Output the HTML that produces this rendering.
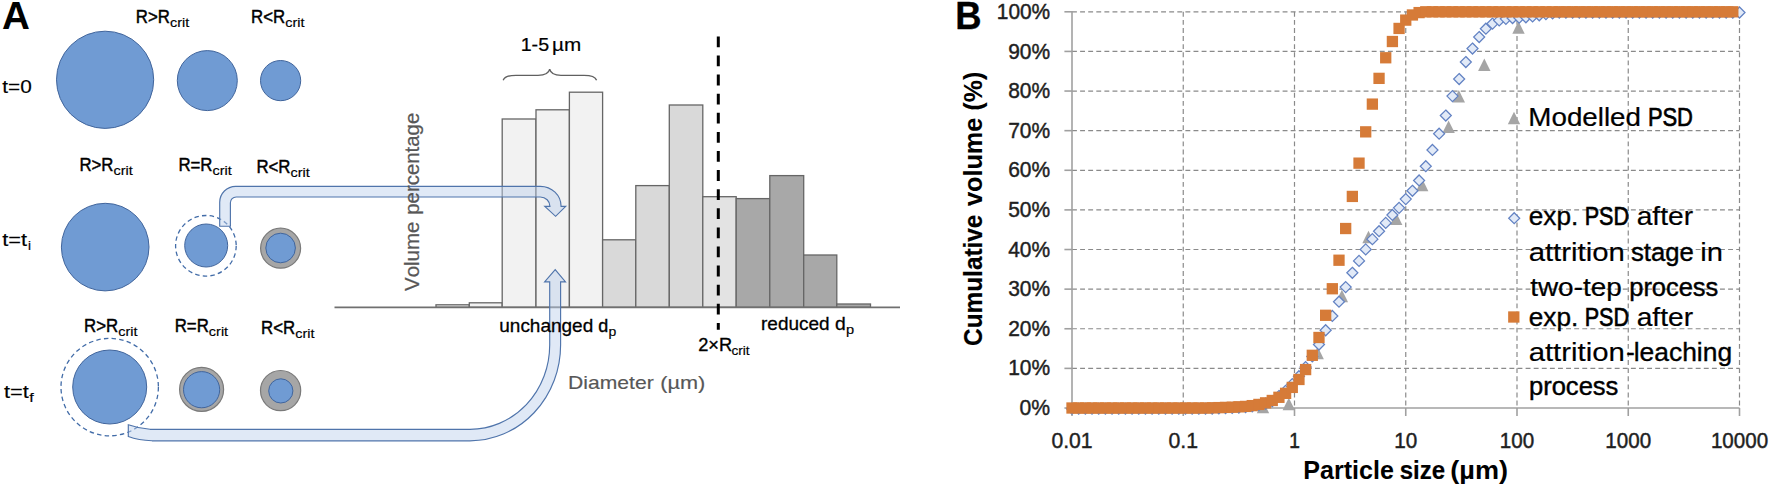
<!DOCTYPE html>
<html lang="en">
<head>
<meta charset="utf-8">
<title>Attrition-leaching model schematic and particle size distributions</title>
<style>
html,body{margin:0;padding:0;background:#fff;}
body{width:1772px;height:487px;overflow:hidden;}
svg{display:block;font-family:"Liberation Sans", sans-serif;}
svg text{font-family:"Liberation Sans", sans-serif;font-kerning:none;}
</style>
</head>
<body>
<svg width="1772" height="487" viewBox="0 0 1772 487">
<rect x="0" y="0" width="1772" height="487" fill="#ffffff"/>
<g id="panelA">
<circle cx="105.1" cy="79.8" r="48.6" fill="#709bd3" stroke="#41659c" stroke-width="1"/>
<circle cx="207.3" cy="80.6" r="30.0" fill="#709bd3" stroke="#41659c" stroke-width="1"/>
<circle cx="280.6" cy="80.6" r="20.1" fill="#709bd3" stroke="#41659c" stroke-width="1"/>
<circle cx="105.2" cy="247.1" r="43.8" fill="#709bd3" stroke="#41659c" stroke-width="1"/>
<circle cx="205.9" cy="245.8" r="30.3" fill="none" stroke="#426ca8" stroke-width="1.3" stroke-dasharray="4.5 3.2"/>
<circle cx="206.2" cy="245.5" r="21.5" fill="#709bd3" stroke="#41659c" stroke-width="1"/>
<circle cx="280.6" cy="248.2" r="20.0" fill="#a6a6a6" stroke="#7a7a7a" stroke-width="1.2"/>
<circle cx="280.6" cy="248.0" r="14.8" fill="#709bd3" stroke="#41659c" stroke-width="1"/>
<circle cx="109.7" cy="387.1" r="48.7" fill="none" stroke="#426ca8" stroke-width="1.3" stroke-dasharray="4.5 3.2"/>
<circle cx="109.7" cy="387.0" r="37.0" fill="#709bd3" stroke="#41659c" stroke-width="1"/>
<circle cx="201.6" cy="389.4" r="22.0" fill="#a6a6a6" stroke="#7a7a7a" stroke-width="1.2"/>
<circle cx="201.6" cy="389.7" r="18.1" fill="#709bd3" stroke="#41659c" stroke-width="1"/>
<circle cx="280.6" cy="390.6" r="20.1" fill="#a6a6a6" stroke="#7a7a7a" stroke-width="1.2"/>
<circle cx="280.8" cy="390.9" r="12.1" fill="#709bd3" stroke="#41659c" stroke-width="1"/>
<rect x="436.0" y="304.8" width="33.3" height="2.5" fill="#f2f2f2" stroke="#666666" stroke-width="1.3"/>
<rect x="469.3" y="302.8" width="32.9" height="4.5" fill="#f2f2f2" stroke="#666666" stroke-width="1.3"/>
<rect x="502.2" y="119.0" width="33.8" height="188.3" fill="#f2f2f2" stroke="#666666" stroke-width="1.3"/>
<rect x="536.0" y="109.8" width="33.4" height="197.5" fill="#f2f2f2" stroke="#666666" stroke-width="1.3"/>
<rect x="569.4" y="92.2" width="33.2" height="215.1" fill="#f2f2f2" stroke="#666666" stroke-width="1.3"/>
<rect x="602.6" y="239.8" width="33.2" height="67.5" fill="#d9d9d9" stroke="#666666" stroke-width="1.3"/>
<rect x="635.8" y="185.6" width="33.5" height="121.7" fill="#d9d9d9" stroke="#666666" stroke-width="1.3"/>
<rect x="669.3" y="105.0" width="33.5" height="202.3" fill="#d9d9d9" stroke="#666666" stroke-width="1.3"/>
<rect x="702.8" y="196.7" width="33.4" height="110.6" fill="#e3e3e3" stroke="#666666" stroke-width="1.3"/>
<rect x="736.2" y="198.6" width="33.6" height="108.7" fill="#a8a8a8" stroke="#666666" stroke-width="1.3"/>
<rect x="769.8" y="175.6" width="33.9" height="131.7" fill="#a8a8a8" stroke="#666666" stroke-width="1.3"/>
<rect x="803.7" y="255.0" width="33.1" height="52.3" fill="#a8a8a8" stroke="#666666" stroke-width="1.3"/>
<rect x="836.8" y="304.0" width="33.7" height="3.3" fill="#a8a8a8" stroke="#666666" stroke-width="1.3"/>
<line x1="334.5" y1="307.3" x2="900" y2="307.3" stroke="#707070" stroke-width="1.8"/>
<line x1="718.3" y1="36.4" x2="718.3" y2="329.7" stroke="#000" stroke-width="3.0" stroke-dasharray="10.8 8.3"/>
<path d="M503.2 80.2 C504.5 76.6 509 75.3 516 75.3 L538 75.3 C545 75.3 548.8 73.5 549.7 69.2 C550.6 73.5 554.4 75.3 561 75.3 L584 75.3 C591 75.3 595.3 76.6 596.6 80.2" fill="none" stroke="#606060" stroke-width="1.35"/>
<path d="M219.7 226.2 L219.7 202.3 A16 16 0 0 1 235.7 186.3 L540.3 186.3 A20.8 20.1 0 0 1 561.1 206.4 L565.7 206.4 L555.6 216.3 L544.8 206.4 L550 206.4 A9.7 9.4 0 0 0 540.3 197.0 L236.2 197.0 A5.8 5.8 0 0 0 230.4 202.8 L230.4 226.2 Z" fill="rgba(190,209,236,0.48)" stroke="#4f74ab" stroke-width="1.15" stroke-linejoin="miter"/>
<path d="M555.2 269.6 L565.5 281.9 L560.6 281.9 L560.6 345 A90.6 95.8 0 0 1 470 440.8 L152 440.8 C142 440.4 134 438.6 128.3 436.5 L128.3 424.8 C134 426.8 141 428.8 150 429.3 L470 429.3 A79.7 84.3 0 0 0 549.7 345 L549.7 281.9 L544.6 281.9 Z" fill="rgba(190,209,236,0.48)" stroke="#4f74ab" stroke-width="1.15" stroke-linejoin="miter"/>
<text x="1.94" y="29.20" font-size="38.2" font-weight="bold" stroke="#000" textLength="27.88" lengthAdjust="spacingAndGlyphs" stroke-width="0.02">A</text>
<text x="135.82" y="22.90" font-size="19.0" stroke="#000" textLength="34.06" lengthAdjust="spacingAndGlyphs" stroke-width="0.47">R&gt;R</text>
<text x="169.99" y="26.80" font-size="12.8" stroke="#000" textLength="19.22" lengthAdjust="spacingAndGlyphs" stroke-width="0.16">crit</text>
<text x="251.12" y="22.90" font-size="19.0" stroke="#000" textLength="34.06" lengthAdjust="spacingAndGlyphs" stroke-width="0.47">R&lt;R</text>
<text x="285.29" y="26.80" font-size="12.8" stroke="#000" textLength="19.22" lengthAdjust="spacingAndGlyphs" stroke-width="0.16">crit</text>
<text x="2.28" y="93.00" font-size="19.0" stroke="#000" textLength="29.53" lengthAdjust="spacingAndGlyphs" stroke-width="0.16">t=0</text>
<text x="79.42" y="171.40" font-size="19.0" stroke="#000" textLength="34.06" lengthAdjust="spacingAndGlyphs" stroke-width="0.47">R&gt;R</text>
<text x="113.59" y="175.30" font-size="12.8" stroke="#000" textLength="19.22" lengthAdjust="spacingAndGlyphs" stroke-width="0.16">crit</text>
<text x="178.42" y="171.40" font-size="19.0" stroke="#000" textLength="34.06" lengthAdjust="spacingAndGlyphs" stroke-width="0.47">R=R</text>
<text x="212.59" y="175.30" font-size="12.8" stroke="#000" textLength="19.22" lengthAdjust="spacingAndGlyphs" stroke-width="0.16">crit</text>
<text x="256.42" y="172.90" font-size="19.0" stroke="#000" textLength="34.06" lengthAdjust="spacingAndGlyphs" stroke-width="0.47">R&lt;R</text>
<text x="290.59" y="176.80" font-size="12.8" stroke="#000" textLength="19.22" lengthAdjust="spacingAndGlyphs" stroke-width="0.16">crit</text>
<text x="2.27" y="246.00" font-size="19.0" stroke="#000" textLength="24.89" lengthAdjust="spacingAndGlyphs" stroke-width="0.16">t=t</text>
<text x="28.00" y="250.20" font-size="13.4" stroke="#000" stroke-width="0.2">i</text>
<text x="84.02" y="332.20" font-size="19.0" stroke="#000" textLength="34.06" lengthAdjust="spacingAndGlyphs" stroke-width="0.47">R&gt;R</text>
<text x="118.19" y="336.10" font-size="12.8" stroke="#000" textLength="19.22" lengthAdjust="spacingAndGlyphs" stroke-width="0.16">crit</text>
<text x="174.72" y="332.20" font-size="19.0" stroke="#000" textLength="34.06" lengthAdjust="spacingAndGlyphs" stroke-width="0.47">R=R</text>
<text x="208.89" y="336.10" font-size="12.8" stroke="#000" textLength="19.22" lengthAdjust="spacingAndGlyphs" stroke-width="0.16">crit</text>
<text x="261.02" y="333.70" font-size="19.0" stroke="#000" textLength="34.06" lengthAdjust="spacingAndGlyphs" stroke-width="0.47">R&lt;R</text>
<text x="295.19" y="337.60" font-size="12.8" stroke="#000" textLength="19.22" lengthAdjust="spacingAndGlyphs" stroke-width="0.16">crit</text>
<text x="3.97" y="397.60" font-size="19.0" stroke="#000" textLength="24.89" lengthAdjust="spacingAndGlyphs" stroke-width="0.16">t=t</text>
<text x="29.37" y="401.80" font-size="12.8" stroke="#000" textLength="4.51" lengthAdjust="spacingAndGlyphs" stroke-width="0.16">f</text>
<text x="520.70" y="51.00" font-size="19.0" stroke="#000" textLength="28.42" lengthAdjust="spacingAndGlyphs" stroke-width="0.23">1-5</text>
<text x="551.98" y="51.00" font-size="19.0" stroke="#000" textLength="29.18" lengthAdjust="spacingAndGlyphs" stroke-width="0.16">µm</text>
<text x="418.60" y="290.99" font-size="19.6" fill="#575757" stroke="#575757" textLength="69.40" lengthAdjust="spacingAndGlyphs" transform="rotate(-90 418.60 290.99)" stroke-width="0.22">Volume</text>
<text x="418.60" y="214.71" font-size="19.6" fill="#575757" stroke="#575757" textLength="102.02" lengthAdjust="spacingAndGlyphs" transform="rotate(-90 418.60 214.71)" stroke-width="0.23">percentage</text>
<text x="499.27" y="331.50" font-size="19.0" stroke="#000" textLength="93.96" lengthAdjust="spacingAndGlyphs" stroke-width="0.29">unchanged</text>
<text x="598.14" y="331.50" font-size="19.0" stroke="#000" textLength="10.02" lengthAdjust="spacingAndGlyphs" stroke-width="0.37">d</text>
<text x="608.40" y="336.20" font-size="12.8" stroke="#000" textLength="7.79" lengthAdjust="spacingAndGlyphs" stroke-width="0.16">p</text>
<text x="761.04" y="329.60" font-size="19.0" stroke="#000" textLength="68.58" lengthAdjust="spacingAndGlyphs" stroke-width="0.29">reduced</text>
<text x="835.09" y="329.60" font-size="19.0" stroke="#000" textLength="10.76" lengthAdjust="spacingAndGlyphs" stroke-width="0.26">d</text>
<text x="846.05" y="334.40" font-size="12.8" stroke="#000" textLength="8.16" lengthAdjust="spacingAndGlyphs" stroke-width="0.16">p</text>
<text x="698.18" y="351.00" font-size="19.0" stroke="#000" textLength="33.96" lengthAdjust="spacingAndGlyphs" stroke-width="0.35">2×R</text>
<text x="731.42" y="355.40" font-size="12.8" stroke="#000" textLength="18.18" lengthAdjust="spacingAndGlyphs" stroke-width="0.16">crit</text>
<text x="568.07" y="389.00" font-size="19.0" fill="#575757" stroke="#575757" textLength="85.68" lengthAdjust="spacingAndGlyphs" stroke-width="0.16">Diameter</text>
<text x="660.25" y="389.00" font-size="19.0" fill="#575757" stroke="#575757" textLength="45.10" lengthAdjust="spacingAndGlyphs" stroke-width="0.16">(µm)</text>
</g>
<g id="panelB">
<line x1="1072.0" y1="368.38" x2="1739.5" y2="368.38" stroke="#8a8a8a" stroke-width="1.2" stroke-dasharray="4.9 3.2"/>
<line x1="1072.0" y1="328.76" x2="1739.5" y2="328.76" stroke="#8a8a8a" stroke-width="1.2" stroke-dasharray="4.9 3.2"/>
<line x1="1072.0" y1="289.14" x2="1739.5" y2="289.14" stroke="#8a8a8a" stroke-width="1.2" stroke-dasharray="4.9 3.2"/>
<line x1="1072.0" y1="249.52" x2="1739.5" y2="249.52" stroke="#8a8a8a" stroke-width="1.2" stroke-dasharray="4.9 3.2"/>
<line x1="1072.0" y1="209.90" x2="1739.5" y2="209.90" stroke="#8a8a8a" stroke-width="1.2" stroke-dasharray="4.9 3.2"/>
<line x1="1072.0" y1="170.28" x2="1739.5" y2="170.28" stroke="#8a8a8a" stroke-width="1.2" stroke-dasharray="4.9 3.2"/>
<line x1="1072.0" y1="130.66" x2="1739.5" y2="130.66" stroke="#8a8a8a" stroke-width="1.2" stroke-dasharray="4.9 3.2"/>
<line x1="1072.0" y1="91.04" x2="1739.5" y2="91.04" stroke="#8a8a8a" stroke-width="1.2" stroke-dasharray="4.9 3.2"/>
<line x1="1072.0" y1="51.42" x2="1739.5" y2="51.42" stroke="#8a8a8a" stroke-width="1.2" stroke-dasharray="4.9 3.2"/>
<line x1="1072.0" y1="11.80" x2="1739.5" y2="11.80" stroke="#8a8a8a" stroke-width="1.2" stroke-dasharray="4.9 3.2"/>
<line x1="1183.25" y1="11.8" x2="1183.25" y2="408.0" stroke="#8a8a8a" stroke-width="1.2" stroke-dasharray="4.9 3.2"/>
<line x1="1294.50" y1="11.8" x2="1294.50" y2="408.0" stroke="#8a8a8a" stroke-width="1.2" stroke-dasharray="4.9 3.2"/>
<line x1="1405.75" y1="11.8" x2="1405.75" y2="408.0" stroke="#8a8a8a" stroke-width="1.2" stroke-dasharray="4.9 3.2"/>
<line x1="1517.00" y1="11.8" x2="1517.00" y2="408.0" stroke="#8a8a8a" stroke-width="1.2" stroke-dasharray="4.9 3.2"/>
<line x1="1628.25" y1="11.8" x2="1628.25" y2="408.0" stroke="#8a8a8a" stroke-width="1.2" stroke-dasharray="4.9 3.2"/>
<line x1="1739.50" y1="11.8" x2="1739.50" y2="408.0" stroke="#8a8a8a" stroke-width="1.2" stroke-dasharray="4.9 3.2"/>
<line x1="1072.0" y1="11.0" x2="1072.0" y2="416.0" stroke="#a0a0a0" stroke-width="1.6"/>
<line x1="1064.4" y1="408.0" x2="1739.5" y2="408.0" stroke="#a0a0a0" stroke-width="1.6"/>
<line x1="1064.4" y1="368.38" x2="1072.0" y2="368.38" stroke="#a0a0a0" stroke-width="1.6"/>
<line x1="1064.4" y1="328.76" x2="1072.0" y2="328.76" stroke="#a0a0a0" stroke-width="1.6"/>
<line x1="1064.4" y1="289.14" x2="1072.0" y2="289.14" stroke="#a0a0a0" stroke-width="1.6"/>
<line x1="1064.4" y1="249.52" x2="1072.0" y2="249.52" stroke="#a0a0a0" stroke-width="1.6"/>
<line x1="1064.4" y1="209.90" x2="1072.0" y2="209.90" stroke="#a0a0a0" stroke-width="1.6"/>
<line x1="1064.4" y1="170.28" x2="1072.0" y2="170.28" stroke="#a0a0a0" stroke-width="1.6"/>
<line x1="1064.4" y1="130.66" x2="1072.0" y2="130.66" stroke="#a0a0a0" stroke-width="1.6"/>
<line x1="1064.4" y1="91.04" x2="1072.0" y2="91.04" stroke="#a0a0a0" stroke-width="1.6"/>
<line x1="1064.4" y1="51.42" x2="1072.0" y2="51.42" stroke="#a0a0a0" stroke-width="1.6"/>
<line x1="1064.4" y1="11.80" x2="1072.0" y2="11.80" stroke="#a0a0a0" stroke-width="1.6"/>
<line x1="1183.25" y1="408.0" x2="1183.25" y2="416.0" stroke="#a0a0a0" stroke-width="1.6"/>
<line x1="1294.50" y1="408.0" x2="1294.50" y2="416.0" stroke="#a0a0a0" stroke-width="1.6"/>
<line x1="1405.75" y1="408.0" x2="1405.75" y2="416.0" stroke="#a0a0a0" stroke-width="1.6"/>
<line x1="1517.00" y1="408.0" x2="1517.00" y2="416.0" stroke="#a0a0a0" stroke-width="1.6"/>
<line x1="1628.25" y1="408.0" x2="1628.25" y2="416.0" stroke="#a0a0a0" stroke-width="1.6"/>
<line x1="1739.50" y1="408.0" x2="1739.50" y2="416.0" stroke="#a0a0a0" stroke-width="1.6"/>
<path d="M1263.00 400.80 L1269.20 413.20 L1256.80 413.20 Z" fill="#a5a5a5"/>
<path d="M1288.80 397.80 L1295.00 410.20 L1282.60 410.20 Z" fill="#a5a5a5"/>
<path d="M1317.70 346.80 L1323.90 359.20 L1311.50 359.20 Z" fill="#a5a5a5"/>
<path d="M1341.90 289.80 L1348.10 302.20 L1335.70 302.20 Z" fill="#a5a5a5"/>
<path d="M1368.50 230.80 L1374.70 243.20 L1362.30 243.20 Z" fill="#a5a5a5"/>
<path d="M1396.20 212.50 L1402.40 224.90 L1390.00 224.90 Z" fill="#a5a5a5"/>
<path d="M1422.20 178.80 L1428.40 191.20 L1416.00 191.20 Z" fill="#a5a5a5"/>
<path d="M1448.60 120.60 L1454.80 133.00 L1442.40 133.00 Z" fill="#a5a5a5"/>
<path d="M1458.80 90.10 L1465.00 102.50 L1452.60 102.50 Z" fill="#a5a5a5"/>
<path d="M1484.30 58.60 L1490.50 71.00 L1478.10 71.00 Z" fill="#a5a5a5"/>
<path d="M1518.50 21.30 L1524.70 33.70 L1512.30 33.70 Z" fill="#a5a5a5"/>
<path d="M1072.00 403.20 L1077.50 408.70 L1072.00 414.20 L1066.50 408.70 Z" fill="#e2eaf7" stroke="#6282c3" stroke-width="1.25"/>
<path d="M1078.67 403.20 L1084.17 408.70 L1078.67 414.20 L1073.17 408.70 Z" fill="#e2eaf7" stroke="#6282c3" stroke-width="1.25"/>
<path d="M1085.35 403.20 L1090.85 408.70 L1085.35 414.20 L1079.85 408.70 Z" fill="#e2eaf7" stroke="#6282c3" stroke-width="1.25"/>
<path d="M1092.03 403.20 L1097.53 408.70 L1092.03 414.20 L1086.53 408.70 Z" fill="#e2eaf7" stroke="#6282c3" stroke-width="1.25"/>
<path d="M1098.70 403.20 L1104.20 408.70 L1098.70 414.20 L1093.20 408.70 Z" fill="#e2eaf7" stroke="#6282c3" stroke-width="1.25"/>
<path d="M1105.38 403.20 L1110.88 408.70 L1105.38 414.20 L1099.88 408.70 Z" fill="#e2eaf7" stroke="#6282c3" stroke-width="1.25"/>
<path d="M1112.05 403.20 L1117.55 408.70 L1112.05 414.20 L1106.55 408.70 Z" fill="#e2eaf7" stroke="#6282c3" stroke-width="1.25"/>
<path d="M1118.72 403.20 L1124.22 408.70 L1118.72 414.20 L1113.22 408.70 Z" fill="#e2eaf7" stroke="#6282c3" stroke-width="1.25"/>
<path d="M1125.40 403.20 L1130.90 408.70 L1125.40 414.20 L1119.90 408.70 Z" fill="#e2eaf7" stroke="#6282c3" stroke-width="1.25"/>
<path d="M1132.08 403.20 L1137.58 408.70 L1132.08 414.20 L1126.58 408.70 Z" fill="#e2eaf7" stroke="#6282c3" stroke-width="1.25"/>
<path d="M1138.75 403.20 L1144.25 408.70 L1138.75 414.20 L1133.25 408.70 Z" fill="#e2eaf7" stroke="#6282c3" stroke-width="1.25"/>
<path d="M1145.42 403.20 L1150.92 408.70 L1145.42 414.20 L1139.92 408.70 Z" fill="#e2eaf7" stroke="#6282c3" stroke-width="1.25"/>
<path d="M1152.10 403.20 L1157.60 408.70 L1152.10 414.20 L1146.60 408.70 Z" fill="#e2eaf7" stroke="#6282c3" stroke-width="1.25"/>
<path d="M1158.78 403.20 L1164.28 408.70 L1158.78 414.20 L1153.28 408.70 Z" fill="#e2eaf7" stroke="#6282c3" stroke-width="1.25"/>
<path d="M1165.45 403.20 L1170.95 408.70 L1165.45 414.20 L1159.95 408.70 Z" fill="#e2eaf7" stroke="#6282c3" stroke-width="1.25"/>
<path d="M1172.12 403.20 L1177.62 408.70 L1172.12 414.20 L1166.62 408.70 Z" fill="#e2eaf7" stroke="#6282c3" stroke-width="1.25"/>
<path d="M1178.80 403.20 L1184.30 408.70 L1178.80 414.20 L1173.30 408.70 Z" fill="#e2eaf7" stroke="#6282c3" stroke-width="1.25"/>
<path d="M1185.47 403.20 L1190.97 408.70 L1185.47 414.20 L1179.97 408.70 Z" fill="#e2eaf7" stroke="#6282c3" stroke-width="1.25"/>
<path d="M1192.15 403.20 L1197.65 408.70 L1192.15 414.20 L1186.65 408.70 Z" fill="#e2eaf7" stroke="#6282c3" stroke-width="1.25"/>
<path d="M1198.83 403.20 L1204.33 408.70 L1198.83 414.20 L1193.33 408.70 Z" fill="#e2eaf7" stroke="#6282c3" stroke-width="1.25"/>
<path d="M1205.50 403.20 L1211.00 408.70 L1205.50 414.20 L1200.00 408.70 Z" fill="#e2eaf7" stroke="#6282c3" stroke-width="1.25"/>
<path d="M1212.17 403.00 L1217.67 408.50 L1212.17 414.00 L1206.67 408.50 Z" fill="#e2eaf7" stroke="#6282c3" stroke-width="1.25"/>
<path d="M1218.85 402.80 L1224.35 408.30 L1218.85 413.80 L1213.35 408.30 Z" fill="#e2eaf7" stroke="#6282c3" stroke-width="1.25"/>
<path d="M1225.53 402.61 L1231.03 408.11 L1225.53 413.61 L1220.03 408.11 Z" fill="#e2eaf7" stroke="#6282c3" stroke-width="1.25"/>
<path d="M1232.20 402.41 L1237.70 407.91 L1232.20 413.41 L1226.70 407.91 Z" fill="#e2eaf7" stroke="#6282c3" stroke-width="1.25"/>
<path d="M1238.88 402.01 L1244.38 407.51 L1238.88 413.01 L1233.38 407.51 Z" fill="#e2eaf7" stroke="#6282c3" stroke-width="1.25"/>
<path d="M1245.55 401.62 L1251.05 407.12 L1245.55 412.62 L1240.05 407.12 Z" fill="#e2eaf7" stroke="#6282c3" stroke-width="1.25"/>
<path d="M1252.22 400.82 L1257.72 406.32 L1252.22 411.82 L1246.72 406.32 Z" fill="#e2eaf7" stroke="#6282c3" stroke-width="1.25"/>
<path d="M1258.90 399.63 L1264.40 405.13 L1258.90 410.63 L1253.40 405.13 Z" fill="#e2eaf7" stroke="#6282c3" stroke-width="1.25"/>
<path d="M1265.58 398.05 L1271.08 403.55 L1265.58 409.05 L1260.08 403.55 Z" fill="#e2eaf7" stroke="#6282c3" stroke-width="1.25"/>
<path d="M1272.25 395.67 L1277.75 401.17 L1272.25 406.67 L1266.75 401.17 Z" fill="#e2eaf7" stroke="#6282c3" stroke-width="1.25"/>
<path d="M1278.92 390.52 L1284.42 396.02 L1278.92 401.52 L1273.42 396.02 Z" fill="#e2eaf7" stroke="#6282c3" stroke-width="1.25"/>
<path d="M1285.60 385.37 L1291.10 390.87 L1285.60 396.37 L1280.10 390.87 Z" fill="#e2eaf7" stroke="#6282c3" stroke-width="1.25"/>
<path d="M1292.28 378.64 L1297.78 384.14 L1292.28 389.64 L1286.78 384.14 Z" fill="#e2eaf7" stroke="#6282c3" stroke-width="1.25"/>
<path d="M1298.95 370.71 L1304.45 376.21 L1298.95 381.71 L1293.45 376.21 Z" fill="#e2eaf7" stroke="#6282c3" stroke-width="1.25"/>
<path d="M1305.62 361.60 L1311.12 367.10 L1305.62 372.60 L1300.12 367.10 Z" fill="#e2eaf7" stroke="#6282c3" stroke-width="1.25"/>
<path d="M1312.30 350.90 L1317.80 356.40 L1312.30 361.90 L1306.80 356.40 Z" fill="#e2eaf7" stroke="#6282c3" stroke-width="1.25"/>
<path d="M1318.97 339.02 L1324.47 344.52 L1318.97 350.02 L1313.47 344.52 Z" fill="#e2eaf7" stroke="#6282c3" stroke-width="1.25"/>
<path d="M1325.65 324.75 L1331.15 330.25 L1325.65 335.75 L1320.15 330.25 Z" fill="#e2eaf7" stroke="#6282c3" stroke-width="1.25"/>
<path d="M1332.33 310.49 L1337.83 315.99 L1332.33 321.49 L1326.83 315.99 Z" fill="#e2eaf7" stroke="#6282c3" stroke-width="1.25"/>
<path d="M1339.00 296.23 L1344.50 301.73 L1339.00 307.23 L1333.50 301.73 Z" fill="#e2eaf7" stroke="#6282c3" stroke-width="1.25"/>
<path d="M1345.67 281.57 L1351.17 287.07 L1345.67 292.57 L1340.17 287.07 Z" fill="#e2eaf7" stroke="#6282c3" stroke-width="1.25"/>
<path d="M1352.35 267.30 L1357.85 272.80 L1352.35 278.30 L1346.85 272.80 Z" fill="#e2eaf7" stroke="#6282c3" stroke-width="1.25"/>
<path d="M1359.03 255.42 L1364.53 260.92 L1359.03 266.42 L1353.53 260.92 Z" fill="#e2eaf7" stroke="#6282c3" stroke-width="1.25"/>
<path d="M1365.70 243.93 L1371.20 249.43 L1365.70 254.93 L1360.20 249.43 Z" fill="#e2eaf7" stroke="#6282c3" stroke-width="1.25"/>
<path d="M1372.38 233.63 L1377.88 239.13 L1372.38 244.63 L1366.88 239.13 Z" fill="#e2eaf7" stroke="#6282c3" stroke-width="1.25"/>
<path d="M1379.05 225.70 L1384.55 231.20 L1379.05 236.70 L1373.55 231.20 Z" fill="#e2eaf7" stroke="#6282c3" stroke-width="1.25"/>
<path d="M1385.72 217.38 L1391.22 222.88 L1385.72 228.38 L1380.22 222.88 Z" fill="#e2eaf7" stroke="#6282c3" stroke-width="1.25"/>
<path d="M1392.40 209.46 L1397.90 214.96 L1392.40 220.46 L1386.90 214.96 Z" fill="#e2eaf7" stroke="#6282c3" stroke-width="1.25"/>
<path d="M1399.08 202.33 L1404.58 207.83 L1399.08 213.33 L1393.58 207.83 Z" fill="#e2eaf7" stroke="#6282c3" stroke-width="1.25"/>
<path d="M1405.75 193.61 L1411.25 199.11 L1405.75 204.61 L1400.25 199.11 Z" fill="#e2eaf7" stroke="#6282c3" stroke-width="1.25"/>
<path d="M1412.42 185.29 L1417.92 190.79 L1412.42 196.29 L1406.92 190.79 Z" fill="#e2eaf7" stroke="#6282c3" stroke-width="1.25"/>
<path d="M1419.10 174.99 L1424.60 180.49 L1419.10 185.99 L1413.60 180.49 Z" fill="#e2eaf7" stroke="#6282c3" stroke-width="1.25"/>
<path d="M1425.78 160.73 L1431.28 166.23 L1425.78 171.73 L1420.28 166.23 Z" fill="#e2eaf7" stroke="#6282c3" stroke-width="1.25"/>
<path d="M1432.45 144.48 L1437.95 149.98 L1432.45 155.48 L1426.95 149.98 Z" fill="#e2eaf7" stroke="#6282c3" stroke-width="1.25"/>
<path d="M1439.12 128.24 L1444.62 133.74 L1439.12 139.24 L1433.62 133.74 Z" fill="#e2eaf7" stroke="#6282c3" stroke-width="1.25"/>
<path d="M1445.80 110.01 L1451.30 115.51 L1445.80 121.01 L1440.30 115.51 Z" fill="#e2eaf7" stroke="#6282c3" stroke-width="1.25"/>
<path d="M1452.47 90.60 L1457.97 96.10 L1452.47 101.60 L1446.97 96.10 Z" fill="#e2eaf7" stroke="#6282c3" stroke-width="1.25"/>
<path d="M1459.15 73.56 L1464.65 79.06 L1459.15 84.56 L1453.65 79.06 Z" fill="#e2eaf7" stroke="#6282c3" stroke-width="1.25"/>
<path d="M1465.83 56.52 L1471.33 62.02 L1465.83 67.52 L1460.33 62.02 Z" fill="#e2eaf7" stroke="#6282c3" stroke-width="1.25"/>
<path d="M1472.50 43.05 L1478.00 48.55 L1472.50 54.05 L1467.00 48.55 Z" fill="#e2eaf7" stroke="#6282c3" stroke-width="1.25"/>
<path d="M1479.17 31.56 L1484.67 37.06 L1479.17 42.56 L1473.67 37.06 Z" fill="#e2eaf7" stroke="#6282c3" stroke-width="1.25"/>
<path d="M1485.85 23.24 L1491.35 28.74 L1485.85 34.24 L1480.35 28.74 Z" fill="#e2eaf7" stroke="#6282c3" stroke-width="1.25"/>
<path d="M1492.53 18.09 L1498.03 23.59 L1492.53 29.09 L1487.03 23.59 Z" fill="#e2eaf7" stroke="#6282c3" stroke-width="1.25"/>
<path d="M1499.20 14.92 L1504.70 20.42 L1499.20 25.92 L1493.70 20.42 Z" fill="#e2eaf7" stroke="#6282c3" stroke-width="1.25"/>
<path d="M1505.88 13.34 L1511.38 18.84 L1505.88 24.34 L1500.38 18.84 Z" fill="#e2eaf7" stroke="#6282c3" stroke-width="1.25"/>
<path d="M1512.55 12.55 L1518.05 18.05 L1512.55 23.55 L1507.05 18.05 Z" fill="#e2eaf7" stroke="#6282c3" stroke-width="1.25"/>
<path d="M1519.22 12.15 L1524.72 17.65 L1519.22 23.15 L1513.72 17.65 Z" fill="#e2eaf7" stroke="#6282c3" stroke-width="1.25"/>
<path d="M1525.90 11.75 L1531.40 17.25 L1525.90 22.75 L1520.40 17.25 Z" fill="#e2eaf7" stroke="#6282c3" stroke-width="1.25"/>
<path d="M1532.58 10.96 L1538.08 16.46 L1532.58 21.96 L1527.08 16.46 Z" fill="#e2eaf7" stroke="#6282c3" stroke-width="1.25"/>
<path d="M1539.25 9.77 L1544.75 15.27 L1539.25 20.77 L1533.75 15.27 Z" fill="#e2eaf7" stroke="#6282c3" stroke-width="1.25"/>
<path d="M1545.92 8.58 L1551.42 14.08 L1545.92 19.58 L1540.42 14.08 Z" fill="#e2eaf7" stroke="#6282c3" stroke-width="1.25"/>
<path d="M1552.60 7.79 L1558.10 13.29 L1552.60 18.79 L1547.10 13.29 Z" fill="#e2eaf7" stroke="#6282c3" stroke-width="1.25"/>
<path d="M1559.28 7.00 L1564.78 12.50 L1559.28 18.00 L1553.78 12.50 Z" fill="#e2eaf7" stroke="#6282c3" stroke-width="1.25"/>
<path d="M1565.95 7.00 L1571.45 12.50 L1565.95 18.00 L1560.45 12.50 Z" fill="#e2eaf7" stroke="#6282c3" stroke-width="1.25"/>
<path d="M1572.62 7.00 L1578.12 12.50 L1572.62 18.00 L1567.12 12.50 Z" fill="#e2eaf7" stroke="#6282c3" stroke-width="1.25"/>
<path d="M1579.30 7.00 L1584.80 12.50 L1579.30 18.00 L1573.80 12.50 Z" fill="#e2eaf7" stroke="#6282c3" stroke-width="1.25"/>
<path d="M1585.97 7.00 L1591.47 12.50 L1585.97 18.00 L1580.47 12.50 Z" fill="#e2eaf7" stroke="#6282c3" stroke-width="1.25"/>
<path d="M1592.65 7.00 L1598.15 12.50 L1592.65 18.00 L1587.15 12.50 Z" fill="#e2eaf7" stroke="#6282c3" stroke-width="1.25"/>
<path d="M1599.32 7.00 L1604.82 12.50 L1599.32 18.00 L1593.82 12.50 Z" fill="#e2eaf7" stroke="#6282c3" stroke-width="1.25"/>
<path d="M1606.00 7.00 L1611.50 12.50 L1606.00 18.00 L1600.50 12.50 Z" fill="#e2eaf7" stroke="#6282c3" stroke-width="1.25"/>
<path d="M1612.67 7.00 L1618.17 12.50 L1612.67 18.00 L1607.17 12.50 Z" fill="#e2eaf7" stroke="#6282c3" stroke-width="1.25"/>
<path d="M1619.35 7.00 L1624.85 12.50 L1619.35 18.00 L1613.85 12.50 Z" fill="#e2eaf7" stroke="#6282c3" stroke-width="1.25"/>
<path d="M1626.03 7.00 L1631.53 12.50 L1626.03 18.00 L1620.53 12.50 Z" fill="#e2eaf7" stroke="#6282c3" stroke-width="1.25"/>
<path d="M1632.70 7.00 L1638.20 12.50 L1632.70 18.00 L1627.20 12.50 Z" fill="#e2eaf7" stroke="#6282c3" stroke-width="1.25"/>
<path d="M1639.38 7.00 L1644.88 12.50 L1639.38 18.00 L1633.88 12.50 Z" fill="#e2eaf7" stroke="#6282c3" stroke-width="1.25"/>
<path d="M1646.05 7.00 L1651.55 12.50 L1646.05 18.00 L1640.55 12.50 Z" fill="#e2eaf7" stroke="#6282c3" stroke-width="1.25"/>
<path d="M1652.72 7.00 L1658.22 12.50 L1652.72 18.00 L1647.22 12.50 Z" fill="#e2eaf7" stroke="#6282c3" stroke-width="1.25"/>
<path d="M1659.40 7.00 L1664.90 12.50 L1659.40 18.00 L1653.90 12.50 Z" fill="#e2eaf7" stroke="#6282c3" stroke-width="1.25"/>
<path d="M1666.07 7.00 L1671.57 12.50 L1666.07 18.00 L1660.57 12.50 Z" fill="#e2eaf7" stroke="#6282c3" stroke-width="1.25"/>
<path d="M1672.75 7.00 L1678.25 12.50 L1672.75 18.00 L1667.25 12.50 Z" fill="#e2eaf7" stroke="#6282c3" stroke-width="1.25"/>
<path d="M1679.42 7.00 L1684.92 12.50 L1679.42 18.00 L1673.92 12.50 Z" fill="#e2eaf7" stroke="#6282c3" stroke-width="1.25"/>
<path d="M1686.10 7.00 L1691.60 12.50 L1686.10 18.00 L1680.60 12.50 Z" fill="#e2eaf7" stroke="#6282c3" stroke-width="1.25"/>
<path d="M1692.78 7.00 L1698.28 12.50 L1692.78 18.00 L1687.28 12.50 Z" fill="#e2eaf7" stroke="#6282c3" stroke-width="1.25"/>
<path d="M1699.45 7.00 L1704.95 12.50 L1699.45 18.00 L1693.95 12.50 Z" fill="#e2eaf7" stroke="#6282c3" stroke-width="1.25"/>
<path d="M1706.12 7.00 L1711.62 12.50 L1706.12 18.00 L1700.62 12.50 Z" fill="#e2eaf7" stroke="#6282c3" stroke-width="1.25"/>
<path d="M1712.80 7.00 L1718.30 12.50 L1712.80 18.00 L1707.30 12.50 Z" fill="#e2eaf7" stroke="#6282c3" stroke-width="1.25"/>
<path d="M1719.47 7.00 L1724.97 12.50 L1719.47 18.00 L1713.97 12.50 Z" fill="#e2eaf7" stroke="#6282c3" stroke-width="1.25"/>
<path d="M1726.15 7.00 L1731.65 12.50 L1726.15 18.00 L1720.65 12.50 Z" fill="#e2eaf7" stroke="#6282c3" stroke-width="1.25"/>
<path d="M1732.82 7.00 L1738.32 12.50 L1732.82 18.00 L1727.32 12.50 Z" fill="#e2eaf7" stroke="#6282c3" stroke-width="1.25"/>
<path d="M1739.50 7.00 L1745.00 12.50 L1739.50 18.00 L1734.00 12.50 Z" fill="#e2eaf7" stroke="#6282c3" stroke-width="1.25"/>
<rect x="1066.35" y="402.35" width="11.3" height="11.3" fill="#d67b38"/>
<rect x="1073.02" y="402.35" width="11.3" height="11.3" fill="#d67b38"/>
<rect x="1079.70" y="402.35" width="11.3" height="11.3" fill="#d67b38"/>
<rect x="1086.38" y="402.35" width="11.3" height="11.3" fill="#d67b38"/>
<rect x="1093.05" y="402.35" width="11.3" height="11.3" fill="#d67b38"/>
<rect x="1099.72" y="402.35" width="11.3" height="11.3" fill="#d67b38"/>
<rect x="1106.40" y="402.35" width="11.3" height="11.3" fill="#d67b38"/>
<rect x="1113.07" y="402.35" width="11.3" height="11.3" fill="#d67b38"/>
<rect x="1119.75" y="402.35" width="11.3" height="11.3" fill="#d67b38"/>
<rect x="1126.42" y="402.35" width="11.3" height="11.3" fill="#d67b38"/>
<rect x="1133.10" y="402.35" width="11.3" height="11.3" fill="#d67b38"/>
<rect x="1139.77" y="402.35" width="11.3" height="11.3" fill="#d67b38"/>
<rect x="1146.45" y="402.35" width="11.3" height="11.3" fill="#d67b38"/>
<rect x="1153.12" y="402.35" width="11.3" height="11.3" fill="#d67b38"/>
<rect x="1159.80" y="402.35" width="11.3" height="11.3" fill="#d67b38"/>
<rect x="1166.47" y="402.35" width="11.3" height="11.3" fill="#d67b38"/>
<rect x="1173.15" y="402.35" width="11.3" height="11.3" fill="#d67b38"/>
<rect x="1179.82" y="402.35" width="11.3" height="11.3" fill="#d67b38"/>
<rect x="1186.50" y="402.35" width="11.3" height="11.3" fill="#d67b38"/>
<rect x="1193.17" y="402.35" width="11.3" height="11.3" fill="#d67b38"/>
<rect x="1199.85" y="402.35" width="11.3" height="11.3" fill="#d67b38"/>
<rect x="1206.52" y="402.15" width="11.3" height="11.3" fill="#d67b38"/>
<rect x="1213.20" y="401.95" width="11.3" height="11.3" fill="#d67b38"/>
<rect x="1219.88" y="401.76" width="11.3" height="11.3" fill="#d67b38"/>
<rect x="1226.55" y="401.56" width="11.3" height="11.3" fill="#d67b38"/>
<rect x="1233.22" y="401.16" width="11.3" height="11.3" fill="#d67b38"/>
<rect x="1239.90" y="400.77" width="11.3" height="11.3" fill="#d67b38"/>
<rect x="1246.57" y="399.97" width="11.3" height="11.3" fill="#d67b38"/>
<rect x="1253.25" y="398.78" width="11.3" height="11.3" fill="#d67b38"/>
<rect x="1259.92" y="397.20" width="11.3" height="11.3" fill="#d67b38"/>
<rect x="1266.60" y="394.82" width="11.3" height="11.3" fill="#d67b38"/>
<rect x="1273.27" y="391.65" width="11.3" height="11.3" fill="#d67b38"/>
<rect x="1279.95" y="387.69" width="11.3" height="11.3" fill="#d67b38"/>
<rect x="1286.62" y="381.75" width="11.3" height="11.3" fill="#d67b38"/>
<rect x="1293.30" y="373.82" width="11.3" height="11.3" fill="#d67b38"/>
<rect x="1299.97" y="363.92" width="11.3" height="11.3" fill="#d67b38"/>
<rect x="1306.65" y="349.66" width="11.3" height="11.3" fill="#d67b38"/>
<rect x="1313.32" y="331.83" width="11.3" height="11.3" fill="#d67b38"/>
<rect x="1320.00" y="309.64" width="11.3" height="11.3" fill="#d67b38"/>
<rect x="1326.67" y="283.09" width="11.3" height="11.3" fill="#d67b38"/>
<rect x="1333.35" y="254.57" width="11.3" height="11.3" fill="#d67b38"/>
<rect x="1340.02" y="222.87" width="11.3" height="11.3" fill="#d67b38"/>
<rect x="1346.70" y="190.78" width="11.3" height="11.3" fill="#d67b38"/>
<rect x="1353.38" y="157.50" width="11.3" height="11.3" fill="#d67b38"/>
<rect x="1360.05" y="126.20" width="11.3" height="11.3" fill="#d67b38"/>
<rect x="1366.72" y="98.46" width="11.3" height="11.3" fill="#d67b38"/>
<rect x="1373.40" y="72.71" width="11.3" height="11.3" fill="#d67b38"/>
<rect x="1380.07" y="52.11" width="11.3" height="11.3" fill="#d67b38"/>
<rect x="1386.75" y="35.86" width="11.3" height="11.3" fill="#d67b38"/>
<rect x="1393.42" y="22.79" width="11.3" height="11.3" fill="#d67b38"/>
<rect x="1400.10" y="14.47" width="11.3" height="11.3" fill="#d67b38"/>
<rect x="1406.77" y="9.32" width="11.3" height="11.3" fill="#d67b38"/>
<rect x="1413.45" y="6.94" width="11.3" height="11.3" fill="#d67b38"/>
<rect x="1420.12" y="6.15" width="11.3" height="11.3" fill="#d67b38"/>
<rect x="1426.80" y="6.15" width="11.3" height="11.3" fill="#d67b38"/>
<rect x="1433.47" y="6.15" width="11.3" height="11.3" fill="#d67b38"/>
<rect x="1440.15" y="6.15" width="11.3" height="11.3" fill="#d67b38"/>
<rect x="1446.82" y="6.15" width="11.3" height="11.3" fill="#d67b38"/>
<rect x="1453.50" y="6.15" width="11.3" height="11.3" fill="#d67b38"/>
<rect x="1460.17" y="6.15" width="11.3" height="11.3" fill="#d67b38"/>
<rect x="1466.85" y="6.15" width="11.3" height="11.3" fill="#d67b38"/>
<rect x="1473.52" y="6.15" width="11.3" height="11.3" fill="#d67b38"/>
<rect x="1480.20" y="6.15" width="11.3" height="11.3" fill="#d67b38"/>
<rect x="1486.88" y="6.15" width="11.3" height="11.3" fill="#d67b38"/>
<rect x="1493.55" y="6.15" width="11.3" height="11.3" fill="#d67b38"/>
<rect x="1500.22" y="6.15" width="11.3" height="11.3" fill="#d67b38"/>
<rect x="1506.90" y="6.15" width="11.3" height="11.3" fill="#d67b38"/>
<rect x="1513.57" y="6.15" width="11.3" height="11.3" fill="#d67b38"/>
<rect x="1520.25" y="6.15" width="11.3" height="11.3" fill="#d67b38"/>
<rect x="1526.92" y="6.15" width="11.3" height="11.3" fill="#d67b38"/>
<rect x="1533.60" y="6.15" width="11.3" height="11.3" fill="#d67b38"/>
<rect x="1540.27" y="6.15" width="11.3" height="11.3" fill="#d67b38"/>
<rect x="1546.95" y="6.15" width="11.3" height="11.3" fill="#d67b38"/>
<rect x="1553.62" y="6.15" width="11.3" height="11.3" fill="#d67b38"/>
<rect x="1560.30" y="6.15" width="11.3" height="11.3" fill="#d67b38"/>
<rect x="1566.97" y="6.15" width="11.3" height="11.3" fill="#d67b38"/>
<rect x="1573.65" y="6.15" width="11.3" height="11.3" fill="#d67b38"/>
<rect x="1580.32" y="6.15" width="11.3" height="11.3" fill="#d67b38"/>
<rect x="1587.00" y="6.15" width="11.3" height="11.3" fill="#d67b38"/>
<rect x="1593.67" y="6.15" width="11.3" height="11.3" fill="#d67b38"/>
<rect x="1600.35" y="6.15" width="11.3" height="11.3" fill="#d67b38"/>
<rect x="1607.02" y="6.15" width="11.3" height="11.3" fill="#d67b38"/>
<rect x="1613.70" y="6.15" width="11.3" height="11.3" fill="#d67b38"/>
<rect x="1620.38" y="6.15" width="11.3" height="11.3" fill="#d67b38"/>
<rect x="1627.05" y="6.15" width="11.3" height="11.3" fill="#d67b38"/>
<rect x="1633.72" y="6.15" width="11.3" height="11.3" fill="#d67b38"/>
<rect x="1640.40" y="6.15" width="11.3" height="11.3" fill="#d67b38"/>
<rect x="1647.07" y="6.15" width="11.3" height="11.3" fill="#d67b38"/>
<rect x="1653.75" y="6.15" width="11.3" height="11.3" fill="#d67b38"/>
<rect x="1660.42" y="6.15" width="11.3" height="11.3" fill="#d67b38"/>
<rect x="1667.10" y="6.15" width="11.3" height="11.3" fill="#d67b38"/>
<rect x="1673.77" y="6.15" width="11.3" height="11.3" fill="#d67b38"/>
<rect x="1680.45" y="6.15" width="11.3" height="11.3" fill="#d67b38"/>
<rect x="1687.12" y="6.15" width="11.3" height="11.3" fill="#d67b38"/>
<rect x="1693.80" y="6.15" width="11.3" height="11.3" fill="#d67b38"/>
<rect x="1700.47" y="6.15" width="11.3" height="11.3" fill="#d67b38"/>
<rect x="1707.15" y="6.15" width="11.3" height="11.3" fill="#d67b38"/>
<rect x="1713.82" y="6.15" width="11.3" height="11.3" fill="#d67b38"/>
<rect x="1720.50" y="6.15" width="11.3" height="11.3" fill="#d67b38"/>
<rect x="1727.17" y="6.15" width="11.3" height="11.3" fill="#d67b38"/>
<path d="M1514.00 111.80 L1520.20 124.20 L1507.80 124.20 Z" fill="#a5a5a5"/>
<path d="M1514.20 212.70 L1519.70 218.20 L1514.20 223.70 L1508.70 218.20 Z" fill="#e2eaf7" stroke="#6282c3" stroke-width="1.25"/>
<rect x="1508.15" y="311.35" width="11.3" height="11.3" fill="#d67b38"/>
<text x="955.26" y="29.20" font-size="38.2" font-weight="bold" stroke="#000" textLength="26.29" lengthAdjust="spacingAndGlyphs" stroke-width="0.35">B</text>
<text x="1050.20" y="415.10" font-size="22.4" fill="#1f1f1f" stroke="#1f1f1f" textLength="30.60" lengthAdjust="spacingAndGlyphs" text-anchor="end" stroke-width="0.44">0%</text>
<text x="1050.20" y="375.48" font-size="22.4" fill="#1f1f1f" stroke="#1f1f1f" textLength="42.00" lengthAdjust="spacingAndGlyphs" text-anchor="end" stroke-width="0.46">10%</text>
<text x="1050.20" y="335.86" font-size="22.4" fill="#1f1f1f" stroke="#1f1f1f" textLength="42.00" lengthAdjust="spacingAndGlyphs" text-anchor="end" stroke-width="0.46">20%</text>
<text x="1050.20" y="296.24" font-size="22.4" fill="#1f1f1f" stroke="#1f1f1f" textLength="42.00" lengthAdjust="spacingAndGlyphs" text-anchor="end" stroke-width="0.46">30%</text>
<text x="1050.20" y="256.62" font-size="22.4" fill="#1f1f1f" stroke="#1f1f1f" textLength="42.00" lengthAdjust="spacingAndGlyphs" text-anchor="end" stroke-width="0.46">40%</text>
<text x="1050.20" y="217.00" font-size="22.4" fill="#1f1f1f" stroke="#1f1f1f" textLength="42.00" lengthAdjust="spacingAndGlyphs" text-anchor="end" stroke-width="0.46">50%</text>
<text x="1050.20" y="177.38" font-size="22.4" fill="#1f1f1f" stroke="#1f1f1f" textLength="42.00" lengthAdjust="spacingAndGlyphs" text-anchor="end" stroke-width="0.46">60%</text>
<text x="1050.20" y="137.76" font-size="22.4" fill="#1f1f1f" stroke="#1f1f1f" textLength="42.00" lengthAdjust="spacingAndGlyphs" text-anchor="end" stroke-width="0.46">70%</text>
<text x="1050.20" y="98.14" font-size="22.4" fill="#1f1f1f" stroke="#1f1f1f" textLength="42.00" lengthAdjust="spacingAndGlyphs" text-anchor="end" stroke-width="0.46">80%</text>
<text x="1050.20" y="58.52" font-size="22.4" fill="#1f1f1f" stroke="#1f1f1f" textLength="42.00" lengthAdjust="spacingAndGlyphs" text-anchor="end" stroke-width="0.46">90%</text>
<text x="1050.20" y="18.90" font-size="22.4" fill="#1f1f1f" stroke="#1f1f1f" textLength="53.40" lengthAdjust="spacingAndGlyphs" text-anchor="end" stroke-width="0.47">100%</text>
<text x="1072.00" y="447.60" font-size="22.4" fill="#1f1f1f" stroke="#1f1f1f" textLength="41.20" lengthAdjust="spacingAndGlyphs" text-anchor="middle" stroke-width="0.44">0.01</text>
<text x="1183.25" y="447.60" font-size="22.4" fill="#1f1f1f" stroke="#1f1f1f" textLength="29.60" lengthAdjust="spacingAndGlyphs" text-anchor="middle" stroke-width="0.43">0.1</text>
<text x="1294.50" y="447.60" font-size="22.4" fill="#1f1f1f" stroke="#1f1f1f" textLength="10.60" lengthAdjust="spacingAndGlyphs" text-anchor="middle" stroke-width="0.62">1</text>
<text x="1405.75" y="447.60" font-size="22.4" fill="#1f1f1f" stroke="#1f1f1f" textLength="23.00" lengthAdjust="spacingAndGlyphs" text-anchor="middle" stroke-width="0.48">10</text>
<text x="1517.00" y="447.60" font-size="22.4" fill="#1f1f1f" stroke="#1f1f1f" textLength="34.40" lengthAdjust="spacingAndGlyphs" text-anchor="middle" stroke-width="0.49">100</text>
<text x="1628.25" y="447.60" font-size="22.4" fill="#1f1f1f" stroke="#1f1f1f" textLength="45.80" lengthAdjust="spacingAndGlyphs" text-anchor="middle" stroke-width="0.49">1000</text>
<text x="1739.50" y="447.60" font-size="22.4" fill="#1f1f1f" stroke="#1f1f1f" textLength="57.20" lengthAdjust="spacingAndGlyphs" text-anchor="middle" stroke-width="0.49">10000</text>
<text x="1303.22" y="478.70" font-size="25.0" font-weight="bold" stroke="#000" textLength="90.64" lengthAdjust="spacingAndGlyphs" stroke-width="0.04">Particle</text>
<text x="1399.76" y="478.70" font-size="25.0" font-weight="bold" stroke="#000" textLength="45.36" lengthAdjust="spacingAndGlyphs" stroke-width="0.20">size</text>
<text x="1450.35" y="478.70" font-size="25.0" font-weight="bold" stroke="#000" textLength="57.70" lengthAdjust="spacingAndGlyphs" stroke-width="0.00">(µm)</text>
<text x="981.60" y="345.90" font-size="25.2" font-weight="bold" stroke="#000" textLength="131.33" lengthAdjust="spacingAndGlyphs" transform="rotate(-90 981.60 345.90)" stroke-width="0.18">Cumulative</text>
<text x="981.60" y="206.00" font-size="25.2" font-weight="bold" stroke="#000" textLength="88.26" lengthAdjust="spacingAndGlyphs" transform="rotate(-90 981.60 206.00)" stroke-width="0.05">volume</text>
<text x="981.60" y="110.44" font-size="25.2" font-weight="bold" stroke="#000" textLength="38.78" lengthAdjust="spacingAndGlyphs" transform="rotate(-90 981.60 110.44)" stroke-width="0.09">(%)</text>
<text x="1528.32" y="126.00" font-size="26.0" stroke="#000" textLength="112.67" lengthAdjust="spacingAndGlyphs" stroke-width="0.24">Modelled</text>
<text x="1647.90" y="126.00" font-size="26.0" stroke="#000" textLength="45.05" lengthAdjust="spacingAndGlyphs" stroke-width="0.70">PSD</text>
<text x="1528.79" y="224.80" font-size="26.0" stroke="#000" textLength="49.50" lengthAdjust="spacingAndGlyphs" stroke-width="0.37">exp.</text>
<text x="1584.63" y="224.80" font-size="26.0" stroke="#000" textLength="44.40" lengthAdjust="spacingAndGlyphs" stroke-width="0.70">PSD</text>
<text x="1636.70" y="224.80" font-size="26.0" stroke="#000" textLength="56.36" lengthAdjust="spacingAndGlyphs" stroke-width="0.21">after</text>
<text x="1528.79" y="326.40" font-size="26.0" stroke="#000" textLength="49.50" lengthAdjust="spacingAndGlyphs" stroke-width="0.37">exp.</text>
<text x="1584.63" y="326.40" font-size="26.0" stroke="#000" textLength="44.40" lengthAdjust="spacingAndGlyphs" stroke-width="0.70">PSD</text>
<text x="1636.70" y="326.40" font-size="26.0" stroke="#000" textLength="56.36" lengthAdjust="spacingAndGlyphs" stroke-width="0.21">after</text>
<text x="1528.65" y="260.60" font-size="26.0" stroke="#000" textLength="96.25" lengthAdjust="spacingAndGlyphs" stroke-width="0.16">attrition</text>
<text x="1630.99" y="260.60" font-size="26.0" stroke="#000" textLength="62.75" lengthAdjust="spacingAndGlyphs" stroke-width="0.42">stage</text>
<text x="1700.24" y="260.60" font-size="26.0" stroke="#000" textLength="22.75" lengthAdjust="spacingAndGlyphs" stroke-width="0.16">in</text>
<text x="1530.18" y="296.40" font-size="26.0" stroke="#000" textLength="91.60" lengthAdjust="spacingAndGlyphs" stroke-width="0.23">two-tep</text>
<text x="1629.26" y="296.40" font-size="26.0" stroke="#000" textLength="89.06" lengthAdjust="spacingAndGlyphs" stroke-width="0.44">process</text>
<text x="1528.65" y="360.80" font-size="26.0" stroke="#000" textLength="96.25" lengthAdjust="spacingAndGlyphs" stroke-width="0.16">attrition</text>
<text x="1626.27" y="360.80" font-size="26.0" stroke="#000" textLength="8.46" lengthAdjust="spacingAndGlyphs" stroke-width="0.44">-</text>
<text x="1633.72" y="360.80" font-size="26.0" stroke="#000" textLength="98.38" lengthAdjust="spacingAndGlyphs" stroke-width="0.36">leaching</text>
<text x="1528.95" y="395.40" font-size="26.0" stroke="#000" textLength="89.47" lengthAdjust="spacingAndGlyphs" stroke-width="0.43">process</text>
</g>
</svg>
</body>
</html>
